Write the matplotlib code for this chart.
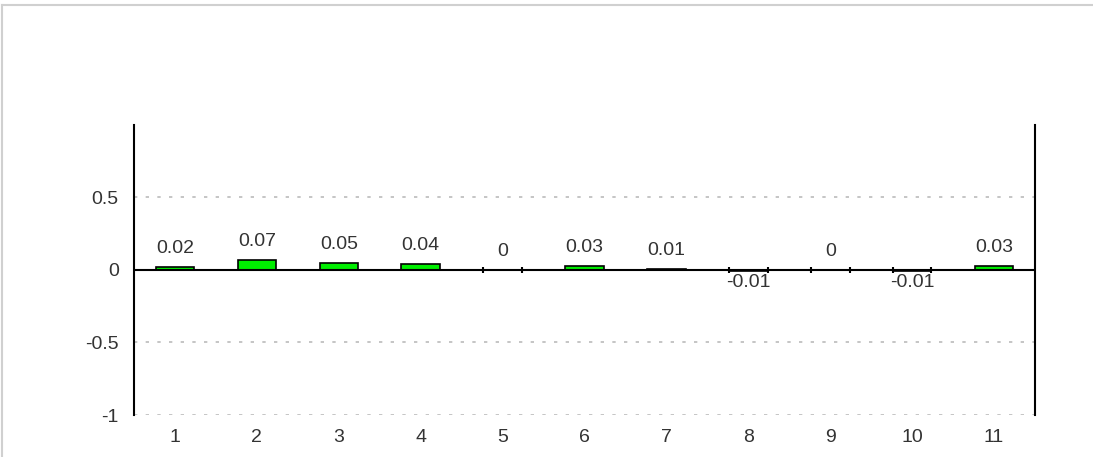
import matplotlib
matplotlib.use("Agg")
from matplotlib import pyplot as plt
from matplotlib.lines import Line2D

plt.rcParams['font.family'] = ['Liberation Sans', 'DejaVu Sans']

categories = ["1", "2", "3", "4", "5", "6", "7", "8", "9", "10", "11"]
values = [0.02, 0.07, 0.05, 0.04, 0, 0.03, 0.01, -0.01, 0, -0.01, 0.03]
value_labels = ["0.02", "0.07", "0.05", "0.04", "0", "0.03", "0.01", "-0.01", "0", "-0.01", "0.03"]
y_ticks = [-1, -0.5, 0, 0.5]
y_tick_labels = ["-1", "-0.5", "0", "0.5"]

fig = plt.figure(figsize=(10.93, 4.57), dpi=100)
ax = fig.add_axes([0.1226, 0.0919, 0.947 - 0.1226, 0.7265 - 0.0919])

x = list(range(1, len(categories) + 1))
bars = ax.bar(x, values, width=0.47, color="#00ee00", edgecolor="black", linewidth=1.2, zorder=3)

# flat bars (zero / negative) show small end ticks on the zero line
for b, v in zip(bars, values):
    if v <= 0:
        x0 = b.get_x()
        x1 = x0 + b.get_width()
        ax.plot([x0, x1], [0, 0], linestyle="none", marker="|", markersize=5,
                markeredgewidth=1.5, color="black", zorder=5)

# value labels
for xi, v, lab in zip(x, values, value_labels):
    if v < 0:
        ax.annotate(lab, (xi, v), xytext=(0, -2), textcoords="offset points",
                    ha="center", va="top", fontsize=14, color="#333333")
    else:
        ax.annotate(lab, (xi, v), xytext=(0, 7), textcoords="offset points",
                    ha="center", va="bottom", fontsize=14, color="#333333")

ax.set_xlim(0.5, 11.5)
ax.set_ylim(-1, 1)
ax.set_xticks(x)
ax.set_xticklabels(categories, fontsize=14, color="#333333")
ax.set_yticks(y_ticks)
ax.set_yticklabels(y_tick_labels, fontsize=14, color="#333333")
ax.tick_params(axis="both", length=0)
ax.tick_params(axis="x", pad=10)
ax.tick_params(axis="y", pad=11)

for yv in [-1, -0.5, 0.5]:
    ax.axhline(yv, color="#bbbbbb", linestyle=(0, (2, 5)), linewidth=1.2, zorder=1)
ax.axhline(0, color="black", linewidth=1.5, zorder=4)

ax.spines["top"].set_visible(False)
ax.spines["bottom"].set_visible(False)
ax.spines["left"].set_linewidth(1.5)
ax.spines["right"].set_linewidth(1.5)

# outer frame lines at top and left
fig.add_artist(Line2D([2 / 1093, 1], [1 - 5 / 457, 1 - 5 / 457], color="#d0d0d0", linewidth=1.5))
fig.add_artist(Line2D([2 / 1093, 2 / 1093], [0, 1 - 5 / 457], color="#d0d0d0", linewidth=1.5))

fig.savefig("out.png", dpi=100)
